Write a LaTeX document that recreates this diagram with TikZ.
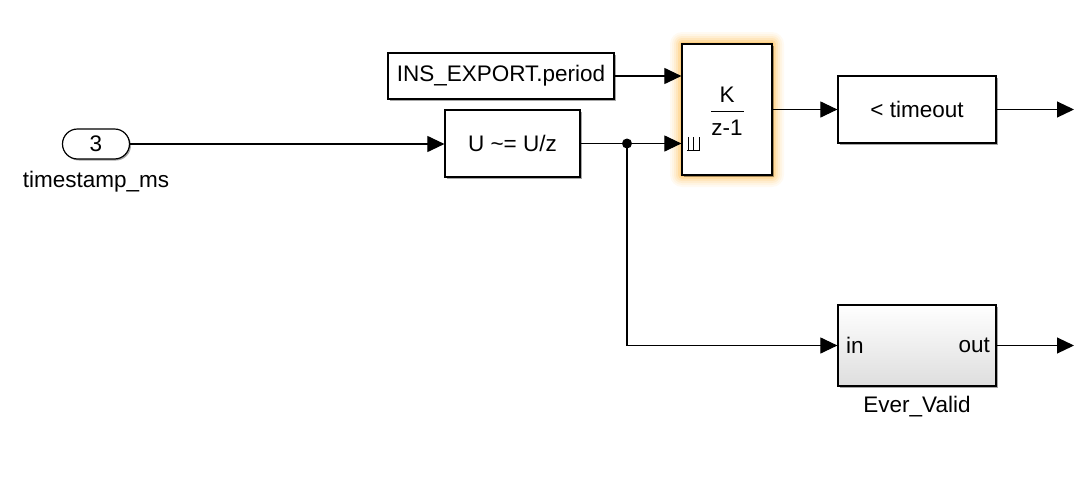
\documentclass[tikz,border=0pt]{standalone}
\usepackage{fontspec}
\setmainfont{Liberation Sans}
\usetikzlibrary{arrows.meta,shadows}
\begin{document}
\begin{tikzpicture}[x=1pt,y=-1pt,
  font=\fontsize{22.5}{26}\selectfont,
  blk/.style={draw, line width=1.2pt, fill=white, inner sep=0pt, anchor=center,
    drop shadow={shadow xshift=1.5pt, shadow yshift=-1.5pt, opacity=0.35, fill=black}},
  wire/.style={line width=1.1pt, -{Triangle[length=17pt,width=16pt]}},
  lbl/.style={inner sep=0pt, anchor=center}]
\useasboundingbox (0,0) rectangle (1074,482);
% glow around integrator
\foreach \r/\o in {12/0.05,10/0.06,8/0.08,6/0.1,4/0.14,2/0.2}
  \fill[orange!75!yellow, opacity=\o, rounded corners=\r pt] (682-\r,44-\r) rectangle (772+\r,175+\r);
% blocks
\node[blk, rounded corners=15pt, minimum width=67pt, minimum height=30pt] (in3) at (96,144) {3};
\node[lbl] (in3lbl) at (96,182) {timestamp\_ms};
\node[blk, minimum width=135pt, minimum height=67pt] (delay) at (512.5,143.5) {U \textasciitilde= U/z};
\node[blk, minimum width=226pt, minimum height=46pt] (ins) at (501,76) {INS\_EXPORT.period};
\node[blk, minimum width=90pt, minimum height=131pt] (integ) at (727,109.5) {};
\node[lbl] (kk) at (727,95) {K};
\node[lbl] (zz) at (727,128) {z-1};
\draw[line width=1pt] (711,111) -- (744,111);
\draw[line width=0.8pt] (688,137) -- (688,150) (693.5,137) -- (693.5,150) (699,137) -- (699,150) (687,150) -- (700,150);
\node[blk, minimum width=158pt, minimum height=67pt] (tmo) at (917,109.5) {< timeout};
\node[blk, minimum width=158pt, minimum height=81pt, top color=white, bottom color=black!13] (ever) at (917,345.5) {};
\node[lbl, anchor=west] (evin) at (846,345.5) {in};
\node[lbl, anchor=east] (evout) at (990,345.5) {out};
\node[lbl] (evlbl) at (917,407) {Ever\_Valid};
% coordinates
\coordinate (dot) at (627,143.5);
\coordinate (o1) at (1074,109.5);
\coordinate (o2) at (1074,345.5);
% wires
\draw[wire] (in3.east) -- (in3.east -| delay.west);
\draw[wire] (delay.east) -- (delay.east -| integ.west);
\draw[wire] (ins.east) -- (ins.east -| integ.west);
\draw[wire] (integ.east) -- (tmo.west);
\draw[wire] (tmo.east) -- (o1);
\draw[wire] (dot) |- (ever.west);
\draw[wire] (ever.east) -- (o2);
\fill (dot) circle (5pt);
\end{tikzpicture}
\end{document}
